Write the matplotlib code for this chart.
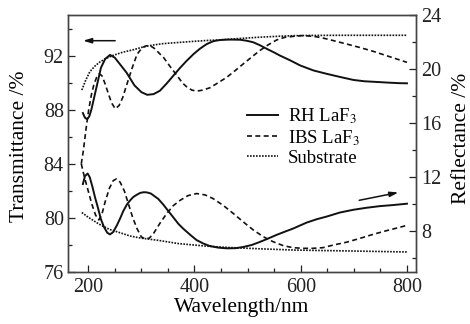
import matplotlib
matplotlib.use("Agg")
import matplotlib.pyplot as plt
from matplotlib.ticker import MultipleLocator

plt.rcParams["font.family"] = ["Liberation Serif", "DejaVu Serif"]
plt.rcParams["mathtext.fontset"] = "stix"

# transmittance (left axis)
wl_rh_t = [190, 194, 198, 202, 206, 215, 224, 232, 241, 250, 260, 272, 287, 300, 311, 323,
           335, 348, 360, 372, 385, 398, 410, 423, 436, 448, 460, 473, 486, 498, 511, 524,
           536, 549, 561, 580, 599, 624, 649, 674, 699, 720, 743, 765, 786, 800]
rh_t = [87.75, 87.4, 87.3, 87.5, 88.0, 89.55, 91.1, 91.75, 92.05, 91.85, 91.35, 90.75, 89.8,
        89.3, 89.1, 89.15, 89.4, 89.95, 90.5, 91.05, 91.6, 92.1, 92.5, 92.85, 93.07, 93.15,
        93.18, 93.18, 93.17, 93.1, 92.98, 92.75, 92.5, 92.25, 92.0, 91.65, 91.27, 90.9,
        90.65, 90.42, 90.2, 90.1, 90.05, 90.0, 89.96, 89.95]

wl_ibs_t = [187, 191, 196, 201, 206, 211, 216, 221, 226, 231, 237, 244, 251, 258, 265, 273,
            282, 292, 302, 309, 316, 324, 333, 342, 354, 367, 378, 386, 395, 404, 416, 429,
            445, 461, 477, 492, 508, 523, 539, 555, 570, 586, 605, 624, 636, 649, 667, 686,
            711, 736, 761, 786, 800]
ibs_t = [84.0, 85.0, 86.6, 88.0, 89.1, 89.9, 90.4, 90.65, 90.5, 90.0, 89.3, 88.5, 88.07,
         88.3, 88.9, 89.9, 91.0, 92.1, 92.6, 92.72, 92.74, 92.55, 92.2, 91.85, 91.2, 90.53,
         89.95, 89.67, 89.45, 89.37, 89.45, 89.62, 90.0, 90.4, 90.9, 91.39, 91.9, 92.37,
         92.8, 93.16, 93.35, 93.42, 93.48, 93.42, 93.35, 93.23, 93.05, 92.86, 92.6, 92.32,
         92.0, 91.68, 91.5]

wl_sub_t = [188, 195, 203, 212, 221, 233, 246, 265, 284, 300, 316, 340, 370, 398, 425, 448,
            480, 523, 560, 585, 620, 680, 740, 800]
sub_t = [89.45, 90.15, 90.8, 91.2, 91.5, 91.78, 92.0, 92.25, 92.42, 92.6, 92.74, 92.88,
         92.97, 93.05, 93.12, 93.16, 93.25, 93.36, 93.43, 93.47, 93.49, 93.5, 93.5, 93.5]

# reflectance (right axis)
wl_rh_r = [190, 194, 199, 203, 208, 213, 218, 224, 230, 236, 241, 247, 254, 260, 266, 273,
           279, 285, 292, 298, 305, 311, 318, 325, 332, 341, 350, 360, 370, 379, 392, 404,
           417, 429, 445, 461, 477, 492, 508, 523, 539, 555, 570, 585, 611, 630, 649, 674,
           699, 724, 749, 774, 800]
rh_r = [11.5, 12.1, 12.28, 12.0, 11.3, 10.5, 9.8, 8.9, 8.3, 7.9, 7.78, 7.95, 8.45, 8.95,
        9.5, 10.0, 10.3, 10.55, 10.72, 10.85, 10.9, 10.88, 10.8, 10.6, 10.4, 10.0, 9.55,
        9.05, 8.55, 8.2, 7.75, 7.36, 7.1, 6.92, 6.8, 6.75, 6.76, 6.85, 7.0, 7.22, 7.48,
        7.75, 7.98, 8.2, 8.65, 8.9, 9.1, 9.4, 9.6, 9.75, 9.87, 9.95, 10.05]

wl_ibs_r = [187, 193, 200, 207, 214, 220, 226, 232, 240, 247, 253, 260, 268, 276, 284, 292,
            300, 307, 315, 323, 335, 348, 360, 373, 388, 404, 420, 435, 455, 473, 492, 511,
            530, 548, 567, 585, 604, 623, 642, 661, 686, 711, 736, 761, 786, 800]
ibs_r = [13.0, 12.0, 11.0, 10.0, 9.2, 8.85, 9.3, 10.2, 11.2, 11.75, 11.88, 11.65, 11.0,
         10.0, 9.0, 8.2, 7.6, 7.45, 7.5, 7.85, 8.6, 9.33, 9.9, 10.3, 10.65, 10.8, 10.7,
         10.43, 9.9, 9.33, 8.7, 8.1, 7.6, 7.24, 6.95, 6.8, 6.75, 6.75, 6.8, 6.99, 7.2, 7.48,
         7.78, 8.05, 8.3, 8.45]

wl_sub_r = [188, 200, 220, 240, 260, 280, 300, 330, 370, 420, 460, 520, 590, 700, 800]
sub_r = [9.4, 9.05, 8.55, 8.15, 7.9, 7.65, 7.5, 7.35, 7.1, 6.92, 6.82, 6.72, 6.62, 6.55, 6.48]

labels = ["RH LaF$_3$", "IBS LaF$_3$", "Substrate"]

ink = "#111111"
solid = dict(color=ink, lw=1.4, ls="-")
dashed = dict(color=ink, lw=1.2, ls=(0, (3, 2)))
dotted = dict(color=ink, lw=1.2, ls=(0, (1, 0.8)))

fig = plt.figure(figsize=(4.7, 3.24), dpi=100)
ax = fig.add_axes([68 / 470, 52 / 324, 348 / 470, 257 / 324])
ax2 = ax.twinx()

h1, = ax.plot(wl_rh_t, rh_t, **solid)
h2, = ax.plot(wl_ibs_t, ibs_t, **dashed)
h3, = ax.plot(wl_sub_t, sub_t, **dotted)
ax2.plot(wl_rh_r, rh_r, **solid)
ax2.plot(wl_ibs_r, ibs_r, **dashed)
ax2.plot(wl_sub_r, sub_r, **dotted)

ax.set_xlim(162, 817)
ax.set_ylim(76, 95)
ax2.set_ylim(5, 24)

ax.xaxis.set_major_locator(MultipleLocator(200))
ax.xaxis.set_minor_locator(MultipleLocator(50))
ax.yaxis.set_major_locator(MultipleLocator(4))
ax.yaxis.set_minor_locator(MultipleLocator(2))
ax2.yaxis.set_major_locator(MultipleLocator(4))
ax2.yaxis.set_minor_locator(MultipleLocator(2))

for a in (ax, ax2):
    a.tick_params(which="both", direction="in", labelsize=14.5, colors="#222222", pad=4)
    a.tick_params(which="major", length=5, width=0.9)
    a.tick_params(which="minor", length=3, width=0.9)
    for s in a.spines.values():
        s.set_color("#444444")
        s.set_linewidth(1.0)
ax.tick_params(axis="y", pad=3)
ax.tick_params(top=False, right=False)
ax2.tick_params(axis="x", which="both", top=False, bottom=False)

ax.set_xlabel("Wavelength/nm", fontsize=15.5)
ax.set_ylabel("Transmittance /%", fontsize=15.5)
ax2.set_ylabel("Reflectance /%", fontsize=15.5)
ax.yaxis.set_label_coords(-0.112, 0.49)
ax2.yaxis.set_label_coords(1.103, 0.52)
ax.xaxis.set_label_coords(0.5, -0.1)

# direction arrows
arrow = dict(arrowstyle="-|>,head_length=0.5,head_width=0.15", color=ink, lw=1.1)
ax.annotate("", xy=(185, 93.1), xytext=(256, 93.1), arrowprops=arrow)
ax2.annotate("", xy=(789, 10.92), xytext=(705, 10.26), arrowprops=arrow)

ax2.legend([h1, h2, h3], labels, loc="upper left", bbox_to_anchor=(0.514, 0.645),
           frameon=False, fontsize=13.5, handlelength=1.65, handletextpad=0.55,
           labelspacing=0.1, borderpad=0, borderaxespad=0)

fig.savefig("out.png", dpi=100)
